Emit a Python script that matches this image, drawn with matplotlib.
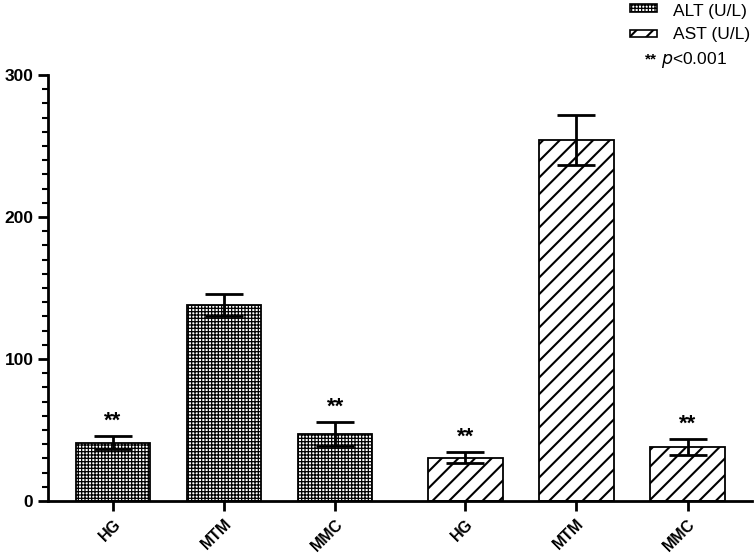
import matplotlib
matplotlib.use('Agg')
import matplotlib.pyplot as plt
from matplotlib.patches import Rectangle
from matplotlib.ticker import MultipleLocator
import numpy as np

plt.rcParams['font.family'] = ['Liberation Sans', 'DejaVu Sans']

# data
groups = ['HG', 'MTM', 'MMC']
alt_mean = [41, 138, 47]
alt_err = [4.5, 7.5, 8.5]
ast_mean = [30.5, 254, 38]
ast_err = [4, 17.5, 5.5]
significant = [True, False, True]

ALT_HATCH, ALT_HLW = '+++++', 0.9
AST_HATCH, AST_HLW = '//', 1.5

fig = plt.figure(figsize=(7.56, 5.56), dpi=100)
ax = fig.add_axes([48 / 756, 55 / 556, (752 - 48) / 756, (501 - 75) / 556])

x_alt = np.arange(3)
x_ast = np.arange(3) + 3.17
width = 0.67

with plt.rc_context({'hatch.linewidth': ALT_HLW}):
    ax.bar(x_alt, alt_mean, width, color='white', edgecolor='black', linewidth=1.3,
           hatch=ALT_HATCH, zorder=2)
with plt.rc_context({'hatch.linewidth': AST_HLW}):
    ax.bar(x_ast, ast_mean, width, color='white', edgecolor='black', linewidth=1.3,
           hatch=AST_HATCH, zorder=2)

for xs, m, e in [(x_alt, alt_mean, alt_err), (x_ast, ast_mean, ast_err)]:
    ax.errorbar(xs, m, yerr=e, fmt='none', ecolor='black', elinewidth=2,
                capsize=14, capthick=2, zorder=3)
    for xi, mi, ei, s in zip(xs, m, e, significant):
        if s:
            ax.text(xi, mi + ei + 3, '**', ha='center', va='bottom',
                    fontsize=16, fontweight='bold')

ax.set_xlim(-0.585, 5.75)
ax.set_ylim(0, 300)
ax.set_xticks(list(x_alt) + list(x_ast))
ax.set_xticklabels(groups + groups, rotation=45, ha='right', rotation_mode='anchor',
                   fontsize=11.5, fontweight='bold')
ax.yaxis.set_major_locator(MultipleLocator(100))
ax.yaxis.set_minor_locator(MultipleLocator(10))
for lab in ax.get_yticklabels():
    lab.set_fontweight('bold')
    lab.set_fontsize(12.5)

for side in ['top', 'right']:
    ax.spines[side].set_visible(False)
for side in ['left', 'bottom']:
    ax.spines[side].set_linewidth(2)
ax.tick_params(axis='both', which='major', width=2, length=7, direction='out')
ax.tick_params(axis='y', which='minor', width=1.5, length=4, direction='out')
ax.tick_params(axis='x', pad=4)

# legend in top right corner
leg_items = [(ALT_HATCH, ALT_HLW, 'ALT (U/L)', 8, 11.5), (AST_HATCH, AST_HLW, 'AST (U/L)', 33.5, 34.5)]
for hatch, hlw, label, ypatch, ytext in leg_items:
    with plt.rc_context({'hatch.linewidth': hlw}):
        fig.patches.append(Rectangle((630 / 756, 1 - (ypatch + 3.5) / 556), 27 / 756, 7 / 556,
                                     transform=fig.transFigure, facecolor='white',
                                     edgecolor='black', linewidth=1.2, hatch=hatch))
    fig.text(673 / 756, 1 - ytext / 556, label, ha='left', va='center', fontsize=12.5)
fig.text(651 / 756, 1 - 59 / 556, '**', ha='center', va='center', fontsize=11,
         fontweight='bold')
fig.text(661 / 756, 1 - 60 / 556, r'$\it{p}$<0.001', ha='left', va='center', fontsize=12.5)

fig.savefig('out.png', dpi=100)
